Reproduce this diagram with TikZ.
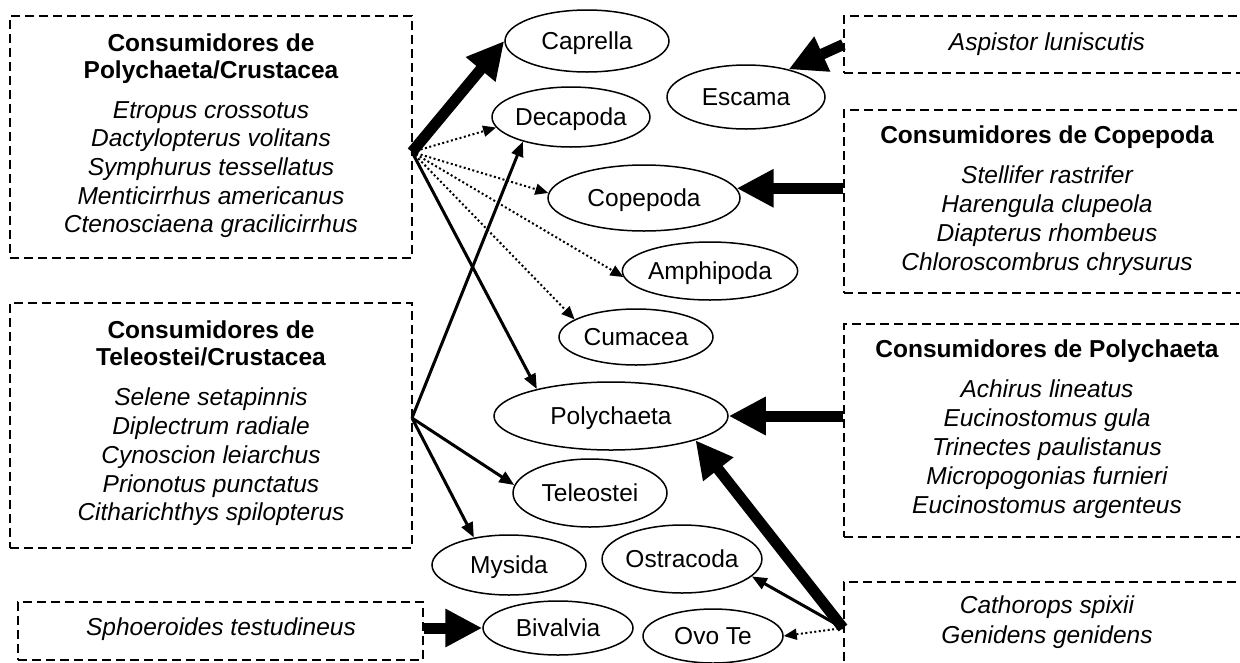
\documentclass[tikz,border=0pt]{standalone}
\usepackage{fontspec}
\setmainfont{Liberation Sans}
\usetikzlibrary{arrows.meta,shapes.geometric}
\begin{document}
\begin{tikzpicture}[x=1pt,y=-1pt,
  font=\fontsize{24.5}{28.5}\selectfont,
  taxon/.style={draw, ellipse, line width=1.5pt, inner sep=0pt,
                text height=17.5pt, text depth=0pt},
  group/.style={draw, rectangle, dash pattern=on 9pt off 5pt, line width=1.4pt,
                inner sep=0pt},
  label/.style={anchor=north, inner sep=0pt, align=center},
  heavy/.style={line width=11pt, -{Triangle[length=37pt,width=36pt]}},
  link/.style={line width=3pt, -{Triangle[length=15pt,width=12pt]}},
  weak/.style={line width=2pt, dash pattern=on 2pt off 2.5pt,
               -{Triangle[length=13pt,width=11pt]}},
]
\clip (0,0) rectangle (1240,662);

% consumer groups
\node[group, minimum width=402pt, minimum height=242pt] (pcbox) at (211,137) {};
\node[label, font=\fontsize{24.5}{27}\selectfont\bfseries] (pctitle) at (211,34)
  {Consumidores de\\Polychaeta/Crustacea};
\node[label, font=\fontsize{24.5}{28.7}\selectfont\itshape] (pclist) at (211,101)
  {Etropus crossotus\\Dactylopterus volitans\\Symphurus tessellatus\\Menticirrhus americanus\\Ctenosciaena gracilicirrhus};

\node[group, minimum width=402pt, minimum height=245pt] (tcbox) at (211,425.5) {};
\node[label, font=\fontsize{24.5}{27}\selectfont\bfseries] (tctitle) at (211,321)
  {Consumidores de\\Teleostei/Crustacea};
\node[label, font=\fontsize{24.5}{28.7}\selectfont\itshape] (tclist) at (211,388)
  {Selene setapinnis\\Diplectrum radiale\\Cynoscion leiarchus\\Prionotus punctatus\\Citharichthys spilopterus};

\node[group, minimum width=405pt, minimum height=58pt] (sphbox) at (220.5,631) {};
\node[label, font=\fontsize{24.5}{28.5}\selectfont\itshape] (sphtext) at (221,618)
  {Sphoeroides testudineus};

\node[group, minimum width=406pt, minimum height=57pt] (aspbox) at (1047,44.5) {};
\node[label, font=\fontsize{24.5}{28.5}\selectfont\itshape] (asptext) at (1047,33)
  {Aspistor luniscutis};

\node[group, minimum width=406pt, minimum height=183pt] (copbox) at (1047,201.5) {};
\node[label, font=\fontsize{24.5}{28.5}\selectfont\bfseries] (coptitle) at (1047,126)
  {Consumidores de Copepoda};
\node[label, font=\fontsize{24.5}{29}\selectfont\itshape] (coplist) at (1047,166)
  {Stellifer rastrifer\\Harengula clupeola\\Diapterus rhombeus\\Chloroscombrus chrysurus};

\node[group, minimum width=406pt, minimum height=213pt] (polbox) at (1047,430.5) {};
\node[label, font=\fontsize{24.5}{28.5}\selectfont\bfseries] (poltitle) at (1047,340)
  {Consumidores de Polychaeta};
\node[label, font=\fontsize{24.5}{29}\selectfont\itshape] (pollist) at (1047,380)
  {Achirus lineatus\\Eucinostomus gula\\Trinectes paulistanus\\Micropogonias furnieri\\Eucinostomus argenteus};

\node[group, minimum width=406pt, minimum height=98pt] (catbox) at (1047,631) {};
\node[label, font=\fontsize{24.5}{30}\selectfont\itshape] (cattext) at (1047,596)
  {Cathorops spixii\\Genidens genidens};

% prey items
\node[taxon, minimum width=164pt, minimum height=62pt] (cap) at (587,41)  {Caprella};
\node[taxon, minimum width=158pt, minimum height=64pt] (esc) at (746,97)  {Escama};
\node[taxon, minimum width=156pt, minimum height=60pt] (dec) at (571,117) {Decapoda};
\node[taxon, minimum width=192pt, minimum height=66pt] (cop) at (644,198) {Copepoda};
\node[taxon, minimum width=170pt, minimum height=58pt] (amp) at (710,271) {Amphipoda};
\node[taxon, minimum width=154pt, minimum height=56pt] (cum) at (636,337) {Cumacea};
\node[taxon, minimum width=234pt, minimum height=68pt] (pol) at (611,416) {Polychaeta};
\node[taxon, minimum width=154pt, minimum height=68pt] (tel) at (590,493) {Teleostei};
\node[taxon, minimum width=154pt, minimum height=60pt] (mys) at (509,565) {Mysida};
\node[taxon, minimum width=158pt, minimum height=68pt] (ost) at (682,559) {Ostracoda};
\node[taxon, minimum width=150pt, minimum height=54pt] (biv) at (558,628) {Bivalvia};
\node[taxon, minimum width=140pt, minimum height=54pt] (ovo) at (713,636) {Ovo Te};

% points where the fans of links leave the group boxes
\coordinate (A) at (412,152);
\coordinate (B) at (412,418);
\coordinate (C) at (843,628);

% links
\draw[heavy] (A) -- (cap.west);
\draw[weak]  (A) -- (dec.188);
\draw[weak]  (A) -- (cop.177);
\draw[weak]  (A) -- (amp.184);
\draw[weak]  (A) -- (cum.164);
\draw[link]  (A) -- (pol.160);

\draw[link]  (B) -- (dec.207);
\draw[link]  (B) -- (tel.174);
\draw[link]  (B) -- (mys.142);

\draw[heavy] (aspbox.west) -- (esc.33);
\draw[heavy] (copbox.west |- cop.6) -- (cop.6);
\draw[heavy] (polbox.west |- pol.east) -- (pol.east);
\draw[heavy] (sphbox.east |- biv.west) -- (biv.west);

\draw[heavy] (C) -- (pol.344);
\draw[link]  (C) -- (ost.346);
\draw[weak]  (C) -- (ovo.east);
\end{tikzpicture}
\end{document}
